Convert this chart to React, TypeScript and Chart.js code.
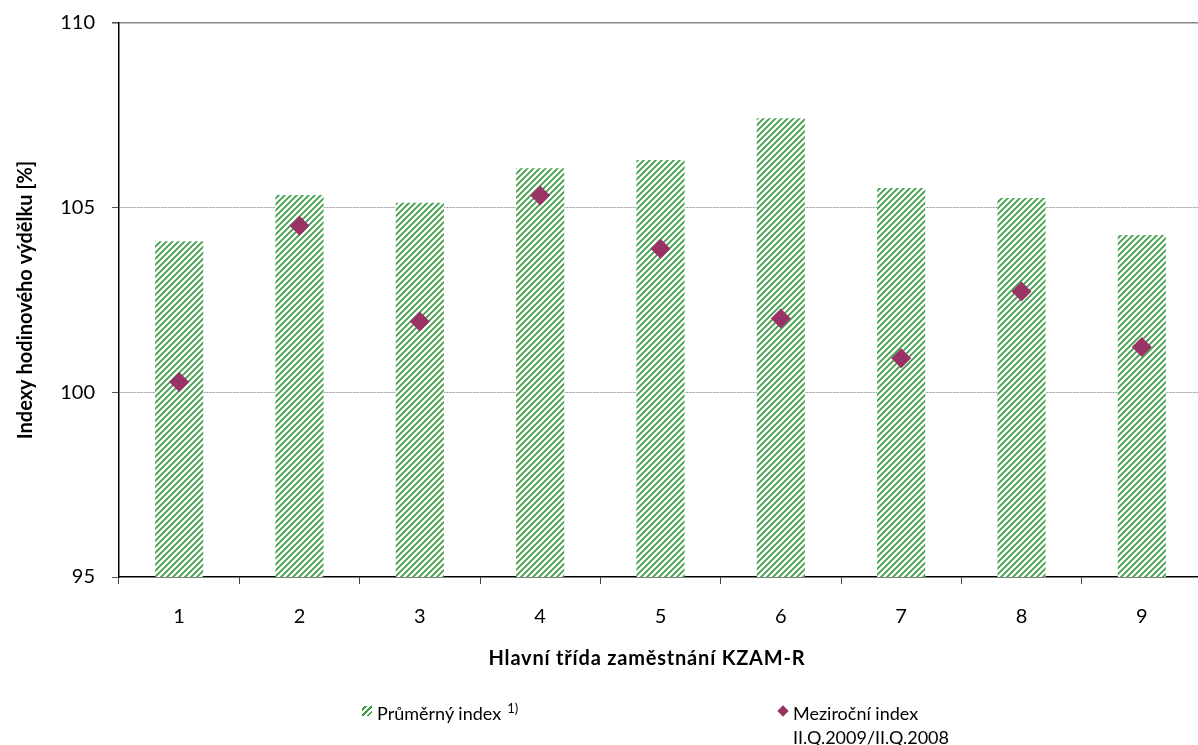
import React, { useEffect, useRef } from 'react';
import { Chart, registerables } from 'chart.js';

Chart.register(...registerables);

const categories = ['1', '2', '3', '4', '5', '6', '7', '8', '9'];
const averageIndex = [104.09, 105.34, 105.13, 106.07, 106.29, 107.42, 105.53, 105.26, 104.26];
const yearOnYearIndex = [100.28, 104.51, 101.92, 105.33, 103.89, 102.0, 100.92, 102.73, 101.23];
const yMin = 95;
const yMax = 110;
const yStep = 5;

const xTitle = 'Hlavní třída zaměstnání KZAM-R';
const yTitle = 'Indexy hodinového výdělku [%]';
const legendAverage = 'Průměrný index';
const legendAverageNote = '1)';
const legendYoY = ['Meziroční index', 'II.Q.2009/II.Q.2008'];

const FONT = 'Lato, "Noto Sans", sans-serif';
const GREEN = '#3f9f48';
const PLUM = '#993366';

// the original plot area runs past the right edge of the picture
const CANVAS_W = 1212;
const VIEW_W = 1198;
const VIEW_H = 745;

function makePattern(ctx: CanvasRenderingContext2D) {
  const s = 6;
  const p = document.createElement('canvas');
  p.width = s;
  p.height = s;
  const c = p.getContext('2d')!;
  c.fillStyle = '#ffffff';
  c.fillRect(0, 0, s, s);
  c.strokeStyle = GREEN;
  c.lineWidth = 1.8;
  c.beginPath();
  c.moveTo(0, s);
  c.lineTo(s, 0);
  c.moveTo(-s / 2, s / 2);
  c.lineTo(s / 2, -s / 2);
  c.moveTo(s / 2, s * 1.5);
  c.lineTo(s * 1.5, s / 2);
  c.stroke();
  return ctx.createPattern(p, 'repeat')!;
}

export default function App() {
  const ref = useRef<HTMLCanvasElement>(null);

  useEffect(() => {
    document.body.style.margin = '0';
    const canvas = ref.current!;
    const ctx = canvas.getContext('2d')!;
    const pattern = makePattern(ctx);

    const chart = new Chart(ctx, {
      type: 'bar',
      data: {
        labels: categories,
        datasets: [
          {
            type: 'line',
            label: legendYoY.join(' '),
            data: yearOnYearIndex,
            showLine: false,
            pointStyle: 'rectRot',
            pointRadius: 10,
            pointBackgroundColor: PLUM,
            pointBorderWidth: 0,
            backgroundColor: PLUM,
            borderColor: PLUM,
            order: 0,
          } as any,
          {
            type: 'bar',
            label: legendAverage,
            data: averageIndex,
            backgroundColor: pattern as any,
            borderWidth: 0,
            barPercentage: 0.4,
            categoryPercentage: 1,
            order: 1,
          },
        ],
      },
      options: {
        responsive: false,
        animation: false,
        layout: { padding: { top: 23, left: 0, right: 0, bottom: 77 } },
        plugins: {
          legend: { display: false },
          tooltip: { enabled: false },
        },
        scales: {
          x: {
            grid: {
              display: true,
              drawOnChartArea: false,
              offset: true,
              tickLength: 7,
              tickColor: '#444',
            },
            border: { display: true, color: '#000', width: 1.5 },
            ticks: {
              color: '#000',
              padding: 21,
              font: { family: FONT, size: 20 },
            },
            title: { display: false, text: xTitle },
            afterFit: (scale: any) => {
              scale.height = 91;
              scale.paddingLeft = 0;
              scale.paddingRight = 0;
            },
          },
          y: {
            min: yMin,
            max: yMax,
            ticks: {
              stepSize: yStep,
              color: '#000',
              padding: 17,
              font: { family: FONT, size: 20 },
            },
            grid: {
              color: (c: any) => {
                const v = c.tick ? c.tick.value : null;
                if (v === yMin) return 'rgba(0,0,0,0)';
                if (v === yMax) return '#8a8a8a';
                return '#9a9a9a';
              },
              lineWidth: (c: any) => (c.tick && c.tick.value === yMax ? 1.6 : 1),
              tickLength: 7,
              tickColor: '#555',
            },
            border: {
              display: true,
              color: '#000',
              width: 1.5,
              dash: (c: any) => (c.tick && c.tick.value !== yMax ? [2, 1] : []),
            } as any,
            title: {
              display: true,
              text: yTitle,
              color: '#000',
              padding: { top: 14, bottom: 0 },
              font: { family: FONT, size: 20, weight: 'bold' },
            },
            afterFit: (scale: any) => {
              scale.width = 119;
              scale.paddingTop = 0;
              scale.paddingBottom = 0;
            },
          },
        },
      },
    });
    return () => chart.destroy();
  }, []);

  const textStyle: React.CSSProperties = {
    position: 'absolute',
    fontFamily: FONT,
    fontSize: 18,
    color: '#000',
    lineHeight: '24px',
    whiteSpace: 'nowrap',
  };

  return (
    <div style={{ position: 'relative', width: VIEW_W, height: VIEW_H, background: '#fff', overflow: 'hidden' }}>
      <canvas
        ref={ref}
        width={CANVAS_W}
        height={VIEW_H}
        style={{ width: CANVAS_W, height: VIEW_H, display: 'block' }}
      />
      <div
        style={{
          ...textStyle,
          fontSize: 20,
          fontWeight: 'bold',
          letterSpacing: 0.8,
          left: 647,
          top: 645,
          transform: 'translateX(-50%)',
        }}
      >
        {xTitle}
      </div>
      <div
        style={{
          position: 'absolute',
          left: 362,
          top: 706,
          width: 10,
          height: 10,
          background: `repeating-linear-gradient(135deg, #ffffff 0px, #ffffff 2px, ${GREEN} 2px, ${GREEN} 4px)`,
        }}
      />
      <div style={{ ...textStyle, left: 377, top: 701 }}>
        {legendAverage}
        <span style={{ fontSize: 13, position: 'relative', top: -7, marginLeft: 6 }}>{legendAverageNote}</span>
      </div>
      <div
        style={{
          position: 'absolute',
          left: 779,
          top: 707,
          width: 8,
          height: 8,
          background: PLUM,
          transform: 'rotate(45deg)',
        }}
      />
      <div style={{ ...textStyle, left: 793, top: 701 }}>
        {legendYoY[0]}
        <br />
        {legendYoY[1]}
      </div>
    </div>
  );
}
